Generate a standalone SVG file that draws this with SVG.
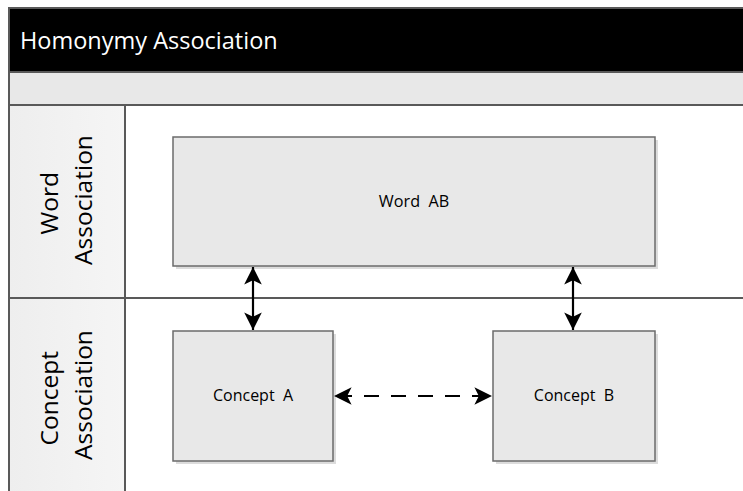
<svg xmlns="http://www.w3.org/2000/svg" width="743" height="491" viewBox="0 0 743 491">
  <style>
    .frame { fill: none; stroke: #595959; stroke-width: 2; }
    .lane-head { fill: url(#laneGrad); stroke: #595959; stroke-width: 2; }
    .node { fill: #e8e8e8; stroke: #6b6b6b; stroke-width: 1.5; }
    .shadow { fill: #dcdcdc; }
    .label { font-family: "Open Sans", "Liberation Sans", sans-serif; fill: #000; text-anchor: middle; }
    .conn { stroke: #000; stroke-width: 2.2; fill: none; }
  </style>
  <defs>
    <linearGradient id="laneGrad" x1="0" y1="0" x2="1" y2="0">
      <stop offset="0" stop-color="#eeeeee"/>
      <stop offset="1" stop-color="#f5f5f5"/>
    </linearGradient>
    <marker id="arrow" viewBox="0 0 10 10" refX="10" refY="5" markerWidth="8" markerHeight="8" orient="auto-start-reverse" markerUnits="strokeWidth">
      <path d="M0,0 L10,5 L0,10 L2.5,5 Z" fill="#000"/>
    </marker>
  </defs>

  <rect width="743" height="491" fill="#fff"/>

  <!-- pool title -->
  <g id="title">
    <rect x="9" y="8" width="740" height="64" fill="#000" stroke="#595959" stroke-width="2"/>
    <text x="20" y="49" font-family="Open Sans, Liberation Sans, sans-serif" font-size="23.5" fill="#fff">Homonymy Association</text>
  </g>

  <!-- band under the title -->
  <rect x="9" y="72" width="740" height="33" fill="#e8e8e8" stroke="#595959" stroke-width="2"/>

  <!-- lanes -->
  <g id="lane-word">
    <rect x="9" y="105" width="740" height="193" class="frame"/>
    <rect x="9" y="105" width="116" height="193" class="lane-head"/>
    <text class="label" font-size="24.5" transform="translate(67,200) rotate(-90)">
      <tspan x="0" y="-9">Word</tspan>
      <tspan x="0" y="25">Association</tspan>
    </text>
  </g>
  <g id="lane-concept">
    <rect x="9" y="298" width="740" height="200" class="frame"/>
    <rect x="9" y="298" width="116" height="200" class="lane-head"/>
    <text class="label" font-size="24.5" transform="translate(67,395) rotate(-90)">
      <tspan x="0" y="-9">Concept</tspan>
      <tspan x="0" y="25">Association</tspan>
    </text>
  </g>

  <!-- nodes -->
  <g id="word-ab">
    <rect x="176" y="140" width="482" height="129" class="shadow"/>
    <rect x="173" y="137" width="482" height="129" class="node"/>
    <text class="label" x="414" y="207" font-size="16.2" xml:space="preserve">Word  AB</text>
  </g>
  <g id="concept-a">
    <rect x="176" y="334" width="160" height="130" class="shadow"/>
    <rect x="173" y="331" width="160" height="130" class="node"/>
    <text class="label" x="253" y="401" font-size="16" xml:space="preserve">Concept  A</text>
  </g>
  <g id="concept-b">
    <rect x="496" y="334" width="162" height="130" class="shadow"/>
    <rect x="493" y="331" width="162" height="130" class="node"/>
    <text class="label" x="574" y="401" font-size="16" xml:space="preserve">Concept  B</text>
  </g>

  <!-- connectors -->
  <g id="connectors">
    <line class="conn" x1="253" y1="267" x2="253" y2="330" marker-start="url(#arrow)" marker-end="url(#arrow)"/>
    <line class="conn" x1="573" y1="267" x2="573" y2="330" marker-start="url(#arrow)" marker-end="url(#arrow)"/>
    <line class="conn" x1="334" y1="396" x2="492" y2="396" stroke-dasharray="15,12" stroke-dashoffset="-3" marker-start="url(#arrow)" marker-end="url(#arrow)"/>
  </g>
</svg>
